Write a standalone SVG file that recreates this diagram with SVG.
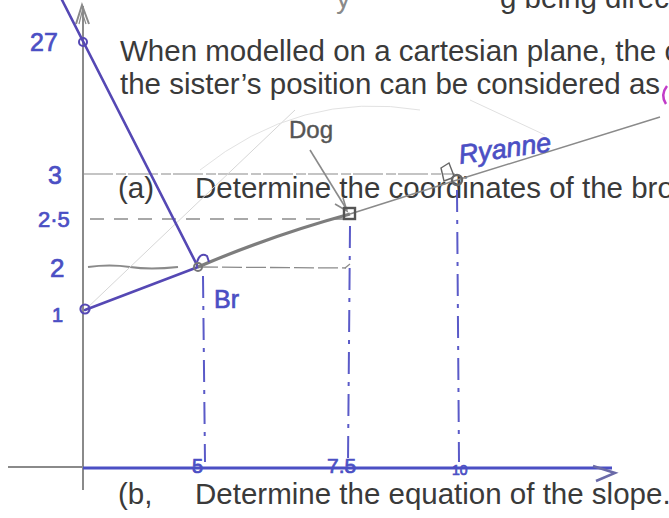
<svg xmlns="http://www.w3.org/2000/svg" width="669" height="518" viewBox="0 0 669 518">
<style>
.print{font-family:"Liberation Sans",Arial,sans-serif;font-size:29.5px;fill:#3a3a3a}
.hand{font-family:"Liberation Sans",Arial,sans-serif;fill:#4b4fc4;stroke:#4b4fc4;stroke-width:0.7}
.pencil{stroke:#8a8a8a;fill:none}
.pen{stroke:#5548b4;fill:none;stroke-width:2.6;stroke-linecap:round}
.dash{stroke:#5a5ac8;fill:none;stroke-width:2;stroke-dasharray:22 8 4 8}
.gdash{stroke:#8c8c8c;fill:none;stroke-width:1.5;stroke-dasharray:14 10}
</style>
<rect width="669" height="518" fill="#ffffff"/>

<g id="printed-text">
<text class="print" x="336" y="8" fill-opacity="0.6">y</text>
<text class="print" x="500" y="8">g being direc</text>
<text class="print" x="120" y="61">When modelled on a cartesian plane, the c</text>
<text class="print" x="120" y="94">the sister’s position can be considered as (</text>
<text class="print" x="118" y="198">(a)</text>
<text class="print" x="195" y="198">Determine the coordinates of the bro</text>
<text class="print" x="118" y="504">(b,</text>
<text class="print" x="195" y="504">Determine the equation of the slope.</text>
</g>

<g id="axes">
<line class="pencil" x1="83" y1="6" x2="83" y2="490" stroke-width="2"/>
<polyline class="pencil" points="76,24 82,5 89,24" stroke-width="2"/>
<polyline class="pencil" points="79,24 82,12 86,24" stroke-width="1.2"/>
<line class="pencil" x1="8" y1="467" x2="83" y2="467" stroke-width="2"/>
<line x1="83" y1="468" x2="612" y2="468" stroke="#4b4fc4" stroke-width="3"/>
<polyline points="593,466 615,473 596,481" stroke="#6a6aa8" stroke-width="2.5" fill="none"/>
</g>

<g id="guides">
<line class="pencil" x1="83" y1="174" x2="455" y2="174" stroke-width="1.2" stroke-dasharray="30 3 10 2"/>
<line class="gdash" x1="90" y1="219" x2="345" y2="219"/>
<path class="pencil" d="M88,267 Q110,264 130,267 T178,267" stroke="#7a76a8" stroke-width="2.2"/>
<line class="pencil" x1="198" y1="267" x2="346" y2="268" stroke-width="1.3" stroke-dasharray="20 4"/>
<path class="pencil" d="M345,268 L350,264" stroke-width="1.3"/>
<line class="dash" x1="203" y1="276" x2="205" y2="462"/>
<line class="dash" x1="350" y1="226" x2="348" y2="462"/>
<line class="dash" x1="457" y1="190" x2="459" y2="462"/>
<line x1="85" y1="310" x2="295" y2="110" stroke="#d6d6d6" stroke-width="1"/>
<path d="M200,170 Q300,90 420,110" stroke="#e2e2e2" stroke-width="1" fill="none"/>
<line x1="470" y1="100" x2="545" y2="135" stroke="#e0e0e0" stroke-width="1"/>
</g>

<g id="connectors">
<line class="pen" x1="62" y1="0" x2="198" y2="267"/>
<line class="pen" x1="85" y1="310" x2="198" y2="267"/>
<path d="M198,267 Q270,236 350,214" stroke="#7d7d7d" stroke-width="3.2" fill="none"/>
<line class="pencil" x1="350" y1="214" x2="457" y2="180" stroke-width="1.6"/>
<line class="pencil" x1="457" y1="180" x2="660" y2="117" stroke-width="1.4"/>
<line class="pencil" x1="310" y1="150" x2="347" y2="210" stroke="#5a5a5a" stroke-width="1.6"/>
<polyline class="pencil" points="335,204 347,211 343,198" stroke="#5a5a5a" stroke-width="1.6"/>
</g>

<g id="node-27">
<circle cx="83" cy="42" r="4" fill="none" stroke="#5548b4" stroke-width="2"/>
<text class="hand" x="30" y="51" font-size="25">27</text>
</g>
<g id="node-1">
<circle cx="85" cy="309" r="4.5" fill="none" stroke="#5548b4" stroke-width="2.2"/>
<text class="hand" x="52" y="322" font-size="20">1</text>
</g>
<g id="node-Br">
<circle cx="198" cy="267" r="4" fill="none" stroke="#777" stroke-width="2"/>
<path d="M197,262 Q200,252 207,256 L209,262" stroke="#5548b4" stroke-width="2" fill="none"/>
<text class="hand" x="214" y="308" font-size="25">Br</text>
</g>
<g id="node-Dog">
<rect x="344" y="208" width="11" height="11" fill="none" stroke="#555" stroke-width="2.4"/>
<text x="289" y="138" font-family="Liberation Sans, Arial, sans-serif" font-size="24" fill="#555" stroke="#555" stroke-width="0.4">Dog</text>
</g>
<g id="node-Ryanne">
<circle cx="457" cy="180" r="5" fill="none" stroke="#666" stroke-width="2.4"/>
<polyline points="454,176 449,163 441,168 444,181 452,178" stroke="#666" stroke-width="1.4" fill="none"/>
<text class="hand" x="460" y="164" font-size="27" font-style="italic" transform="rotate(-8 460 164)" stroke-width="0.4">Ryanne</text>
</g>

<g id="y-labels">
<text class="hand" x="48" y="184" font-size="25">3</text>
<text class="hand" x="38" y="227" font-size="22">2·5</text>
<text class="hand" x="50" y="277" font-size="26">2</text>
</g>
<g id="x-labels">
<text class="hand" x="192" y="473" font-size="20">5</text>
<text class="hand" x="327" y="473" font-size="21">7.5</text>
<text class="hand" x="452" y="475" font-size="14">10</text>
</g>

<path d="M667,86 Q660,95 666,104" stroke="#c23cc8" stroke-width="2.5" fill="none"/>
</svg>
